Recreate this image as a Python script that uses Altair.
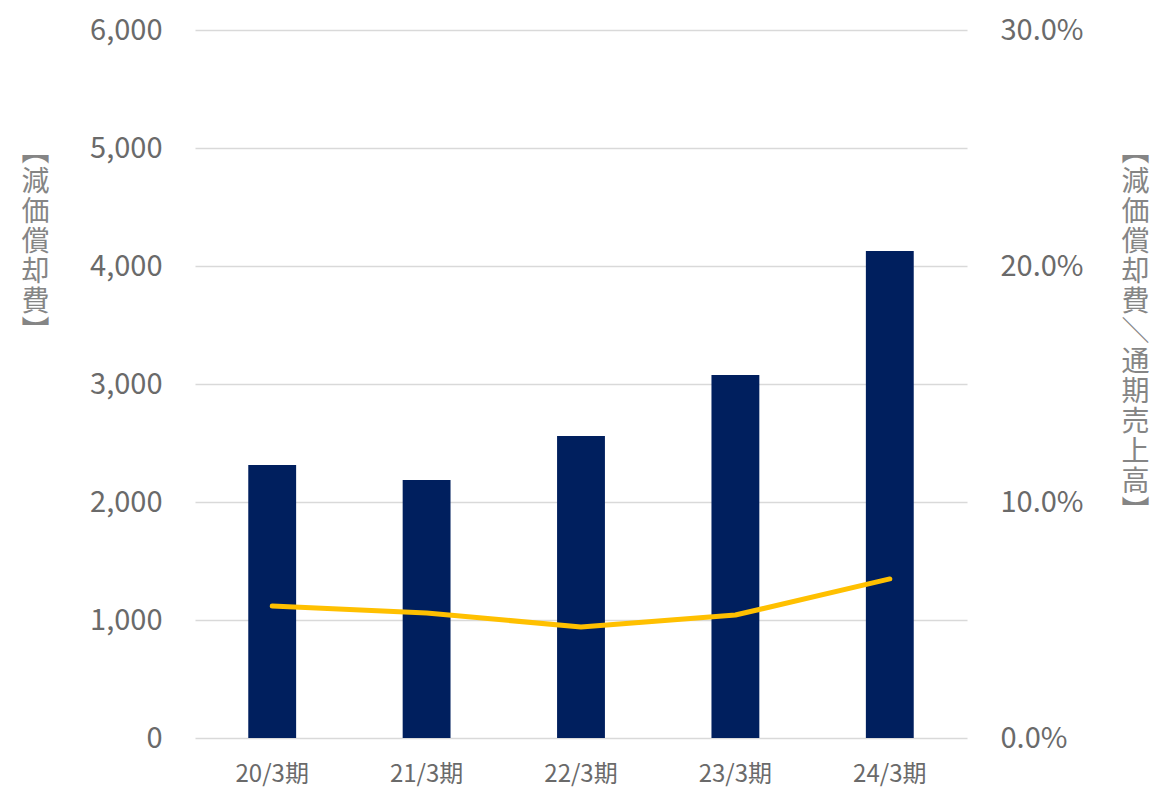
import altair as alt
import pandas as pd

periods = ["20/3期", "21/3期", "22/3期", "23/3期", "24/3期"]
depreciation = [2314, 2186, 2559, 3076, 4127]
ratio = [0.0559, 0.0530, 0.0470, 0.0521, 0.0674]

left_title = ["︻", "減", "価", "償", "却", "費", "︼"]
right_title = ["︻", "減", "価", "償", "却", "費", "＼", "通", "期", "売", "上", "高", "︼"]

df = pd.DataFrame({"period": periods, "dep": depreciation, "ratio": ratio})

FONT = "Noto Sans CJK JP"
GRAY = "#6a6a6a"
TGRAY = "#858585"

x = alt.X("period:N", sort=periods, title=None,
          scale=alt.Scale(paddingInner=0.69, paddingOuter=0.345),
          axis=alt.Axis(labelAngle=0, domain=False, ticks=False, labelFontSize=24,
                        labelColor=GRAY, labelFont=FONT, labelPadding=24))

bars = alt.Chart(df).mark_bar(color="#001F5E").encode(
    x=x,
    y=alt.Y("dep:Q", scale=alt.Scale(domain=[0, 6000]),
            axis=alt.Axis(values=[0, 1000, 2000, 3000, 4000, 5000, 6000], format=",.0f",
                          domain=False, ticks=False, grid=True, gridColor="#d9d9d9",
                          gridWidth=1.5, labelFontSize=29, labelColor=GRAY, labelFont=FONT,
                          labelPadding=33, title=left_title, titleAngle=0,
                          titleFontSize=28, titleLineHeight=30, titleFont=FONT,
                          titleColor=TGRAY, titleFontWeight="normal",
                          titleX=-160, titleY=108, titleBaseline="top", titleAlign="center")),
)

line = alt.Chart(df).mark_line(color="#FFC000", strokeWidth=5, strokeCap="round",
                               strokeJoin="round").encode(
    x=x,
    y=alt.Y("ratio:Q", scale=alt.Scale(domain=[0, 0.3]),
            axis=alt.Axis(orient="right", values=[0, 0.1, 0.2, 0.3], format=".1%",
                          domain=False, ticks=False, grid=False, labelFontSize=29,
                          labelColor=GRAY, labelFont=FONT, labelPadding=33,
                          title=right_title, titleAngle=0, titleFontSize=28,
                          titleLineHeight=30, titleFont=FONT, titleColor=TGRAY,
                          titleFontWeight="normal", titleX=168, titleY=108,
                          titleBaseline="top", titleAlign="center")),
)

chart = alt.layer(bars, line).resolve_scale(y="independent").properties(
    width=772, height=708,
    autosize=alt.AutoSizeParams(type="none"),
    padding={"left": 195, "top": 30, "right": 183, "bottom": 52},
).configure_view(stroke=None)

chart.save("out.html", embed_options={"renderer": "svg", "actions": False})
